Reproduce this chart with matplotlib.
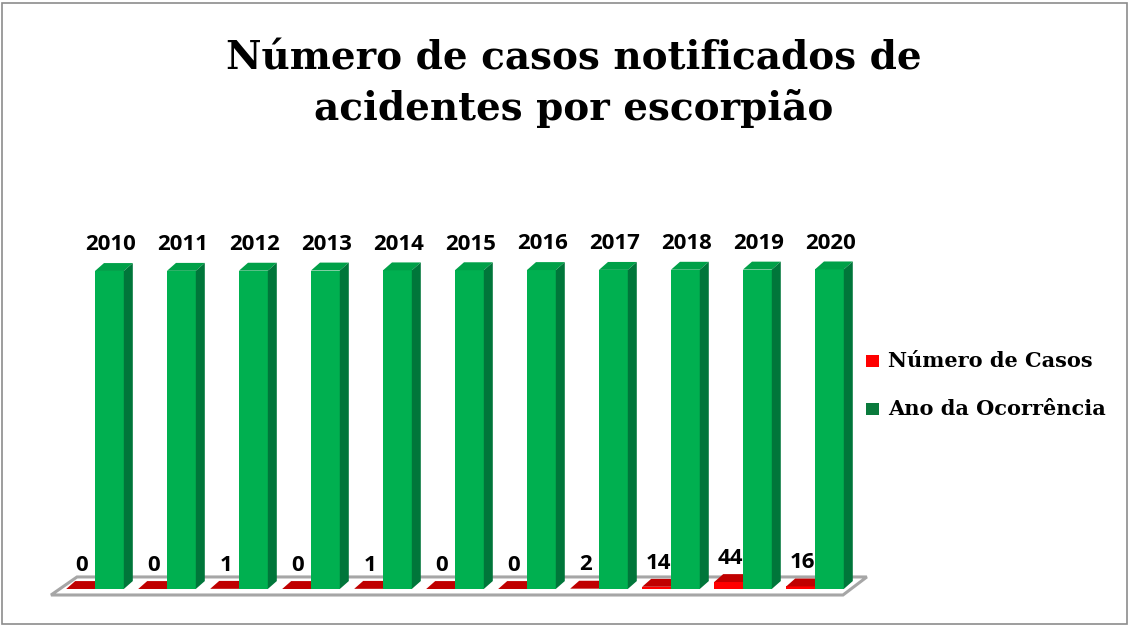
import matplotlib.pyplot as plt
from matplotlib.patches import Polygon, Rectangle

anos = [2010, 2011, 2012, 2013, 2014, 2015, 2016, 2017, 2018, 2019, 2020]
casos = [0, 0, 1, 0, 1, 0, 0, 2, 14, 44, 16]

titulo = ["Número de casos notificados de", "acidentes por escorpião"]
serie_casos = "Número de Casos"
serie_anos = "Ano da Ocorrência"

W = 0.4      # largura da barra (unidades de x)
DX = 0.125   # profundidade 3D em x
DY = 50      # profundidade 3D em y


def bar3d(ax, x, h, front, top, side, z):
    ax.bar(x, h, width=W, align="edge", color=front, linewidth=0, zorder=z)
    ax.add_patch(Polygon([(x, h), (x + DX, h + DY), (x + W + DX, h + DY), (x + W, h)],
                         closed=True, facecolor=top, edgecolor="none", zorder=z))
    ax.add_patch(Polygon([(x + W, 0), (x + W + DX, DY), (x + W + DX, h + DY), (x + W, h)],
                         closed=True, facecolor=side, edgecolor="none", zorder=z))


def main():
    fig = plt.figure(figsize=(11.32, 6.25), dpi=100)
    fig.patches.append(Rectangle((0.002, 0.002), 0.994, 0.994, transform=fig.transFigure,
                                 fill=False, edgecolor="#8c8c8c", linewidth=1.2))

    ax = fig.add_axes([40 / 1132, 25 / 625, 840 / 1132, 370 / 625])
    ax.set_xlim(-0.764, 10.903)
    ax.set_ylim(-69.6, 2269)
    ax.axis("off")

    # piso
    ax.add_patch(Polygon([(-0.611, -38), (-0.25, 76), (10.72, 76), (10.389, -38)],
                         closed=True, facecolor="white", edgecolor="#a6a6a6",
                         linewidth=2.2, zorder=1))

    for i, (ano, n) in enumerate(zip(anos, casos)):
        bar3d(ax, i - W, n, "#ff0000", "#c00000", "#a00000", 2 + i * 2)
        bar3d(ax, i, ano, "#00b050", "#00a048", "#00763a", 3 + i * 2)
        ax.text(i - W / 2 + 0.02, n + 150, str(n), ha="center", va="center",
                fontsize=16, fontweight="bold", family="Open Sans", zorder=40)
        ax.text(i + W / 2 + 0.02, ano + 165, str(ano), ha="center", va="center",
                fontsize=16, fontweight="bold", family="Open Sans", zorder=40)

    for y, linha in zip([70, 120], titulo):
        fig.text(0.507, 1 - y / 625, linha, ha="center", va="baseline", fontsize=28,
                 fontweight="bold", family="DejaVu Serif")

    # legenda
    for y, cor, nome in [(361, "#ff0000", serie_casos), (409, "#0a7a3c", serie_anos)]:
        fig.patches.append(Rectangle((866 / 1132, 1 - (y + 6) / 625), 13 / 1132, 12 / 625,
                                     transform=fig.transFigure, facecolor=cor,
                                     edgecolor="none"))
        fig.text(888 / 1132, 1 - y / 625, nome, ha="left", va="center", fontsize=15,
                 fontweight="bold", family="DejaVu Serif")

    fig.savefig("out.png", dpi=100)


if __name__ == "__main__":
    main()
